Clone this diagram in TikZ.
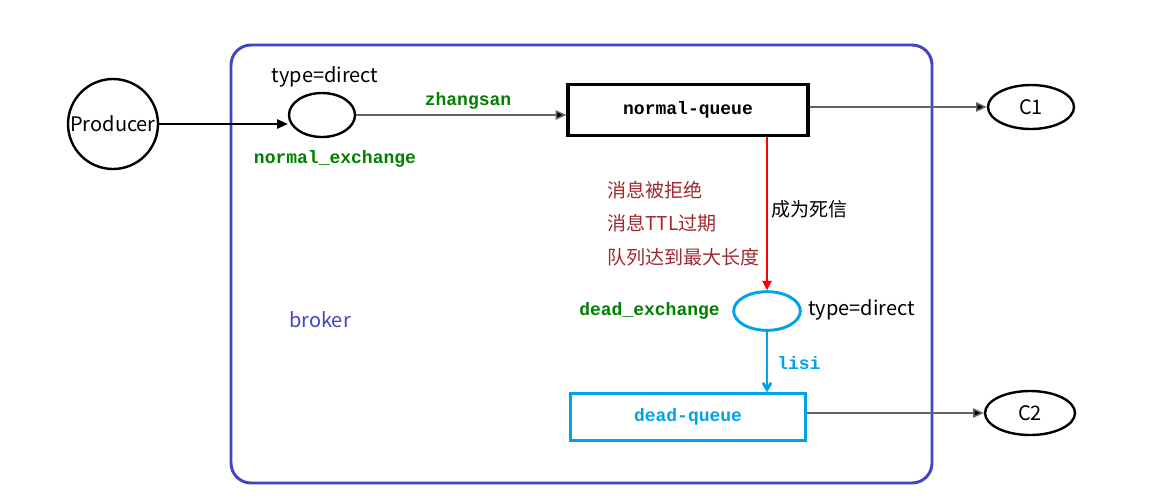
\documentclass[tikz,border=0pt]{standalone}
\usepackage{fontspec}
\setmainfont{Noto Sans CJK SC}
\newfontfamily\cmono{Liberation Mono}
\usetikzlibrary{arrows.meta}
\definecolor{brokerblue}{RGB}{67,67,200}
\definecolor{dgreen}{RGB}{0,128,0}
\definecolor{dcyan}{RGB}{0,162,232}
\definecolor{dred}{RGB}{160,40,45}
\definecolor{lgray}{RGB}{100,100,100}
\tikzset{
  sanslbl/.style={font=\fontsize{15pt}{18pt}\selectfont, inner sep=0pt},
  cnlbl/.style={font=\fontsize{14.3pt}{17pt}\selectfont, inner sep=0pt, text=dred, anchor=west},
  monolbl/.style={font=\cmono\bfseries\fontsize{13.5pt}{16pt}\selectfont, inner sep=0pt},
  blackell/.style={draw=black, line width=1.8pt, ellipse},
  arr/.style={line width=1.1pt, -{Triangle[length=8pt,width=7pt]}},
}
\usetikzlibrary{shapes.geometric}
\begin{document}
\begin{tikzpicture}[x=0.75pt,y=-0.75pt]
\useasboundingbox (0,0) rectangle (1166,497);
\fill[white] (0,0) rectangle (1166,497);
% broker frame
\draw[brokerblue, line width=2.2pt, rounded corners=15pt] (231,45) rectangle (932,483);
\node[sanslbl, text=brokerblue] (brokerlbl) at (320,320) {broker};

% producer
\node[circle, draw=black, line width=1.8pt, minimum size=67.5pt, inner sep=0pt, sanslbl] (prod) at (113,124) {Producer};
% normal exchange
\node[blackell, minimum width=49.5pt, minimum height=33pt, inner sep=0pt] (ex1) at (322,115) {};
\node[sanslbl] (t1) at (325,77) {type=direct};
\node[monolbl, text=dgreen] (ne) at (335,159) {normal\_exchange};
% normal queue
\node[draw=black, line width=2.4pt, minimum width=180pt, minimum height=38pt, inner sep=0pt, monolbl] (nq) at (688,110) {normal-queue};
\node[monolbl, text=dgreen] (zs) at (468,101) {zhangsan};
% C1
\node[blackell, minimum width=64.5pt, minimum height=33pt, inner sep=0pt, sanslbl] (c1) at (1031,107) {C1};

% dead exchange
\node[ellipse, draw=dcyan, line width=2.2pt, minimum width=50pt, minimum height=29pt, inner sep=0pt] (ex2) at (767,311) {};
\node[monolbl, text=dgreen, anchor=east] (de) at (720,311) {dead\_exchange};
\node[sanslbl, anchor=west] (t2) at (808,310) {type=direct};
% dead queue
\node[draw=dcyan, line width=2pt, minimum width=176pt, minimum height=35pt, inner sep=0pt, monolbl, text=dcyan] (dq) at (688,417) {dead-queue};
\node[monolbl, text=dcyan, anchor=west] (lisi) at (777,363) {lisi};
% C2
\node[blackell, minimum width=67.5pt, minimum height=33pt, inner sep=0pt, sanslbl] (c2) at (1030,413) {C2};

% red labels
\node[cnlbl] (r1) at (607,190) {消息被拒绝};
\node[cnlbl] (r2) at (607,223) {消息TTL过期};
\node[cnlbl] (r3) at (607,257) {队列达到最大长度};
\node[cnlbl, text=black] (dl) at (771,209) {成为死信};

% connectors
\draw[arr, black] (prod.east) -- (prod.east -| ex1.west);
\draw[arr, draw=lgray, -{Triangle[length=8pt,width=7pt,fill=black]}] (ex1.east) -- (ex1.east -| nq.west);
\draw[arr, draw=lgray, -{Triangle[length=8pt,width=7pt,fill=black]}] (c1.west -| nq.east) -- (c1.west);
\draw[red, line width=0.9pt, -{Triangle[length=7pt,width=7pt]}] (ex2.north |- nq.south) -- (ex2.north);
\draw[dcyan, line width=2.2pt, -{Straight Barb[length=5pt,width=6pt]}] (ex2.south) -- (ex2.south |- dq.north);
\draw[arr, draw=lgray, -{Triangle[length=8pt,width=7pt,fill=black]}] (c2.west -| dq.east) -- (c2.west);
\end{tikzpicture}
\end{document}
